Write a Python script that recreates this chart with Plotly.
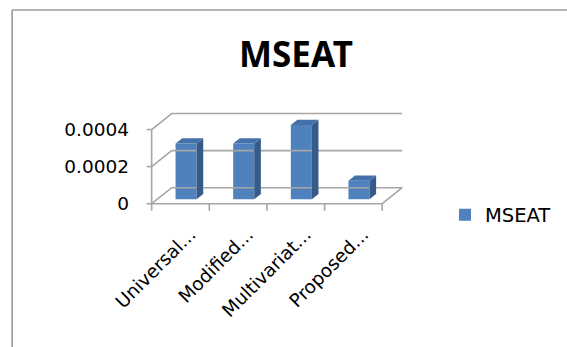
import plotly.graph_objects as go

# ---- data ----
categories = ["Universal...", "Modified...", "Multivariat...", "Proposed..."]
mseat_values = [0.0003, 0.0003, 0.0004, 0.0001]
y_tick_values = [0, 0.0002, 0.0004]
y_tick_labels = ["0", "0.0002", "0.0004"]
series_name = "MSEAT"

# ---- geometry (pixel layout) ----
WIDTH, HEIGHT = 567, 347
PX_PER_U = 57.5          # pixels per category unit
PX_PER_V = 185000.0      # pixels per value unit
X0_PX = 152.0            # pixel of u=0
Y0_PX = 203.5            # pixel of v=0
XR = [-0.15, 4.5]
YR = [-0.00005, 0.0005]
L = X0_PX + XR[0] * PX_PER_U
W = (XR[1] - XR[0]) * PX_PER_U
T = Y0_PX - YR[1] * PX_PER_V
HP = (YR[1] - YR[0]) * PX_PER_V
R = WIDTH - L - W
B = HEIGHT - T - HP

# depth vector of the 3D box (in data units)
DU = 20 / PX_PER_U
DV = 16 / PX_PER_V
BAR_FRONT = 0.28   # depth fraction of bar front faces
BAR_DEPTH = 0.33   # depth fraction occupied by a bar
BAR_W = 21 / PX_PER_U
LABEL_SHIFT = 0.17  # shift of rotated category labels (category units)

n = len(categories)
vmax = max(y_tick_values)

GRID = "#A6A6A6"
FRONT = "#4F81BD"
TOP = "#4571AB"
SIDE = "#375B88"


def proj(u, v, d):
    return u + d * DU, v + d * DV


fig = go.Figure()

# back wall gridlines, side wall diagonals, floor
gx, gy = [], []
for tv in y_tick_values:
    a = proj(0, tv, 0)
    b = proj(0, tv, 1)
    c = proj(n, tv, 1)
    gx += [a[0], b[0], c[0], None]
    gy += [a[1], b[1], c[1], None]
# floor front edge and right edge
f1 = proj(0, 0, 0)
f2 = proj(n, 0, 0)
f3 = proj(n, 0, 1)
gx += [f1[0], f2[0], f3[0], None]
gy += [f1[1], f2[1], f3[1], None]
# front vertical axis line
gx += [0, 0, None]
gy += [0, vmax, None]
# y tick marks
tick_u = 5 / PX_PER_U
for tv in y_tick_values:
    gx += [-tick_u, 0, None]
    gy += [tv, tv, None]
# x tick marks at category boundaries
tick_v = 7 / PX_PER_V
for i in range(n + 1):
    gx += [i, i, None]
    gy += [0, -tick_v, None]

fig.add_trace(go.Scatter(x=gx, y=gy, mode="lines", line=dict(color=GRID, width=1.6),
                         hoverinfo="skip", showlegend=False))

# bars
base_v = BAR_FRONT * DV
fig.add_trace(go.Bar(
    x=[i + 0.5 + BAR_FRONT * DU for i in range(n)],
    y=mseat_values,
    base=[base_v] * n,
    width=BAR_W,
    marker=dict(color=FRONT, line=dict(width=0)),
    name=series_name,
    showlegend=True,
))
for i, val in enumerate(mseat_values):
    uc = i + 0.5
    xl = uc - BAR_W / 2
    xr = uc + BAR_W / 2
    d0, d1 = BAR_FRONT, BAR_FRONT + BAR_DEPTH
    # side face
    pts = [proj(xr, 0, d0), proj(xr, val, d0), proj(xr, val, d1), proj(xr, 0, d1)]
    fig.add_trace(go.Scatter(x=[p[0] for p in pts] + [pts[0][0]],
                             y=[p[1] for p in pts] + [pts[0][1]],
                             mode="lines", fill="toself", fillcolor=SIDE,
                             line=dict(width=0, color=SIDE), hoverinfo="skip", showlegend=False))
    # top face
    pts = [proj(xl, val, d0), proj(xr, val, d0), proj(xr, val, d1), proj(xl, val, d1)]
    fig.add_trace(go.Scatter(x=[p[0] for p in pts] + [pts[0][0]],
                             y=[p[1] for p in pts] + [pts[0][1]],
                             mode="lines", fill="toself", fillcolor=TOP,
                             line=dict(width=0, color=TOP), hoverinfo="skip", showlegend=False))


def paper_x(px):
    return (px - L) / W


def paper_y(py):
    return (T + HP - py) / HP


shapes = [
    dict(type="line", xref="paper", yref="paper", x0=paper_x(12.8), x1=paper_x(570),
         y0=paper_y(10.3), y1=paper_y(10.3), line=dict(color="#9A9A9A", width=1.6)),
    dict(type="line", xref="paper", yref="paper", x0=paper_x(12.8), x1=paper_x(12.8),
         y0=paper_y(10.3), y1=paper_y(350), line=dict(color="#9A9A9A", width=1.6)),
]

fig.update_layout(
    width=WIDTH, height=HEIGHT,
    margin=dict(l=L, r=R, t=T, b=B, pad=0),
    paper_bgcolor="white", plot_bgcolor="white",
    shapes=shapes,
    title=dict(text=series_name, x=296 / WIDTH, xref="container", xanchor="center",
               y=1 - 54.5 / HEIGHT, yref="container", yanchor="middle",
               font=dict(family="Noto Sans", size=35, color="black", weight=700)),
    xaxis=dict(range=XR, showgrid=False, zeroline=False, showline=False, ticks="",
               tickvals=[i + 0.5 + LABEL_SHIFT for i in range(n)], ticktext=categories,
               tickangle=-45, ticklabelstandoff=6,
               tickfont=dict(family="DejaVu Sans", size=18.5, color="black")),
    yaxis=dict(range=YR, showgrid=False, zeroline=False, showline=False, ticks="",
               tickvals=y_tick_values, ticktext=y_tick_labels,
               ticklabelstandoff=13,
               tickfont=dict(family="DejaVu Sans", size=18.5, color="black")),
    legend=dict(xref="container", yref="container", x=445 / WIDTH, y=1 - 215 / HEIGHT,
                xanchor="left", yanchor="middle",
                font=dict(family="DejaVu Sans", size=19.5, color="black"),
                bgcolor="rgba(0,0,0,0)"),
    showlegend=True,
)

fig.write_html("out.html")
